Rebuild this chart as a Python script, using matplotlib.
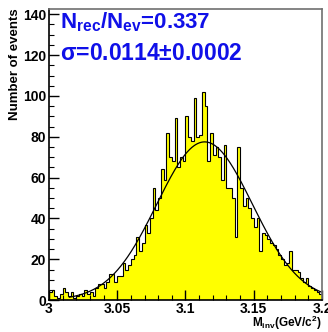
import numpy as np
import matplotlib.pyplot as plt
from matplotlib.ticker import MultipleLocator, FuncFormatter

plt.rcParams['font.family'] = ['Liberation Sans', 'DejaVu Sans']
plt.rcParams['font.weight'] = 'bold'
plt.rcParams['mathtext.fontset'] = 'custom'
plt.rcParams['mathtext.rm'] = 'Liberation Sans:bold'
plt.rcParams['mathtext.bf'] = 'Liberation Sans:bold'
plt.rcParams['mathtext.it'] = 'Liberation Sans:bold'

# histogram: 100 bins from 3.0 to 3.2 GeV/c^2
m_lo = 3.0
m_hi = 3.2
n_bins = 100
counts = [4, 5, 2, 1, 3, 6, 4, 2, 4, 1,
          2, 3, 2, 5, 3, 4, 2, 6, 8, 8,
          6, 9, 13, 13, 9, 12, 12, 18, 15, 17,
          20, 22, 31, 24, 28, 37, 33, 40, 55, 44,
          50, 64, 59, 82, 70, 68, 89, 65, 70, 68,
          90, 80, 78, 99, 80, 81, 102, 95, 68, 82,
          71, 75, 70, 59, 76, 55, 55, 50, 31, 75,
          55, 46, 50, 45, 40, 36, 40, 24, 33, 32,
          30, 28, 27, 25, 22, 20, 17, 18, 24, 15,
          15, 14, 11, 9, 11, 7, 6, 5, 4, 3]

# gaussian fit
fit_amp = 77.5
fit_mean = 3.114
fit_sigma = 0.035
fit_lo = 3.015

edges = np.linspace(m_lo, m_hi, n_bins + 1)
centers = 0.5 * (edges[:-1] + edges[1:])

fig = plt.figure(figsize=(3.28, 3.32), dpi=100)
ax = fig.add_axes([0.149, 0.096, 0.833, 0.877])

ax.hist(centers, bins=edges, weights=counts, histtype='stepfilled',
        facecolor='#ffff00', edgecolor='black', linewidth=0.8)

xf = np.linspace(fit_lo, m_hi, 300)
ax.plot(xf, fit_amp * np.exp(-0.5 * ((xf - fit_mean) / fit_sigma) ** 2),
        color='black', lw=0.9)

ax.set_xlim(m_lo, m_hi)
ax.set_ylim(0, 142.6)

ax.xaxis.set_major_locator(MultipleLocator(0.05))
ax.xaxis.set_minor_locator(MultipleLocator(0.01))
ax.yaxis.set_major_locator(MultipleLocator(20))
ax.yaxis.set_minor_locator(MultipleLocator(5))
ax.xaxis.set_major_formatter(FuncFormatter(lambda v, p: '%g' % round(v, 3)))
ax.tick_params(which='major', direction='in', length=7, width=1, labelsize=10, pad=2)
ax.tick_params(which='minor', direction='in', length=3.5, width=0.8)
ax.tick_params(axis='x', which='major', pad=1)

for s in ['top', 'right']:
    ax.spines[s].set_color('#707070')
    ax.spines[s].set_linewidth(1.2)
for s in ['left', 'bottom']:
    ax.spines[s].set_linewidth(1.2)

ax.text(0.04, 0.995, r'N$_{\rm rec}$/N$_{\rm ev}$=0.337', transform=ax.transAxes,
        color='#1010e8', fontsize=16, fontweight='bold', va='top', ha='left')
ax.text(0.04, 0.885, r'$\sigma$=0.0114$\pm$0.0002', transform=ax.transAxes,
        color='#1010e8', fontsize=16.5, fontweight='bold', va='top', ha='left')

fig.text(0.045, 0.975, 'Number of events', rotation=90, ha='center', va='top',
         fontsize=9.5, fontweight='bold')
fig.text(0.982, 0.0, r'M$_{\rm inv}$(GeV/c$^{\rm 2}$)', ha='right', va='bottom',
         fontsize=8.5, fontweight='bold')

fig.savefig('out.png', dpi=100)
